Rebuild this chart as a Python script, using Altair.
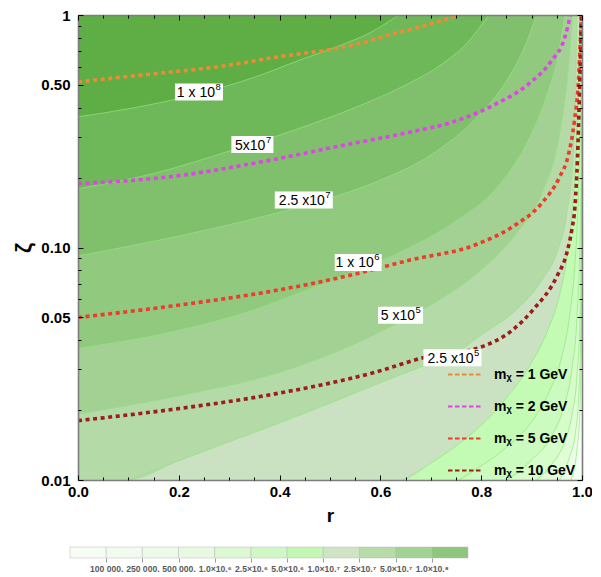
import altair as alt
import pandas as pd

FONT = "Liberation Sans"

# ---------------- filled-contour boundaries (r, zeta) ----------------
A_r = [0, 0.1, 0.242, 0.35, 0.44, 0.52, 0.58, 0.636]
A_z = [0.365, 0.395, 0.46, 0.54, 0.64, 0.74, 0.84, 1.0]
B_r = [0, 0.15, 0.305, 0.44, 0.55, 0.65, 0.72, 0.77, 0.815]
B_z = [0.179, 0.208, 0.262, 0.326, 0.40, 0.50, 0.61, 0.75, 1.0]
C_r = [0, 0.2, 0.39, 0.5, 0.6, 0.7, 0.79, 0.85, 0.885, 0.91]
C_z = [0.092, 0.112, 0.14, 0.163, 0.195, 0.25, 0.36, 0.52, 0.72, 1.0]
D_r = [0, 0.2, 0.35, 0.457, 0.556, 0.65, 0.75, 0.83, 0.89, 0.93, 0.952, 0.966]
D_z = [0.0368, 0.044, 0.054, 0.066, 0.08, 0.098, 0.13, 0.18, 0.28, 0.45, 0.66, 1.0]
D2_r = [0, 0.2, 0.4, 0.55, 0.64, 0.72, 0.8, 0.87, 0.92, 0.955, 0.972, 0.982]
D2_z = [0.0192, 0.023, 0.029, 0.0385, 0.048, 0.06, 0.08, 0.115, 0.17, 0.3, 0.55, 1.0]
E_r = [0.103, 0.2, 0.3, 0.4, 0.5, 0.6, 0.7, 0.743, 0.8, 0.87, 0.92, 0.95, 0.97, 0.982, 0.987, 0.99]
E_z = [0.01, 0.0121, 0.0146, 0.0176, 0.0214, 0.0262, 0.0318, 0.0345, 0.042, 0.054, 0.072, 0.095, 0.14, 0.24, 0.45, 1.0]
F_r = [0.645, 0.7, 0.75, 0.8, 0.85, 0.9, 0.93, 0.955, 0.97, 0.98, 0.988, 0.993, 0.996]
F_z = [0.01, 0.0118, 0.014, 0.0172, 0.0225, 0.032, 0.043, 0.062, 0.09, 0.14, 0.25, 0.5, 1.0]
G_r = [0.755, 0.8, 0.85, 0.9, 0.935, 0.96, 0.975, 0.986, 0.993, 0.997, 0.999]
G_z = [0.01, 0.0115, 0.0138, 0.0178, 0.024, 0.034, 0.05, 0.085, 0.17, 0.4, 1.0]
H_r = [0.851, 0.9, 0.94, 0.965, 0.98, 0.99, 0.996, 0.999, 1.0]
H_z = [0.01, 0.0122, 0.0155, 0.021, 0.03, 0.05, 0.11, 0.35, 1.0]
I_r = [0.91, 0.94, 0.965, 0.98, 0.99, 0.996, 0.999, 1.0]
I_z = [0.01, 0.0117, 0.0145, 0.019, 0.028, 0.05, 0.15, 1.0]
J_r = [0.955, 0.975, 0.987, 0.994, 0.998, 1.0]
J_z = [0.01, 0.0125, 0.016, 0.024, 0.05, 0.3]
K_r = [0.978, 0.99, 0.996, 1.0]
K_z = [0.01, 0.0135, 0.02, 0.06]

# fill colour of the region just above/left of each boundary
REGION_NAMES = ["K", "J", "I", "H", "G", "F", "E", "D2", "D", "C", "B", "A"]
REGION_R = [K_r, J_r, I_r, H_r, G_r, F_r, E_r, D2_r, D_r, C_r, B_r, A_r]
REGION_Z = [K_z, J_z, I_z, H_z, G_z, F_z, E_z, D2_z, D_z, C_z, B_z, A_z]
REGION_COLORS = ["#ecfee6", "#e1fdd8", "#d6fcca", "#cbfbbe", "#c3fbb4", "#cbe2c2",
                 "#b4daa7", "#a3d193", "#91c97f", "#80c06c", "#6eb859", "#5fad45"]
BACKGROUND = "#f6fff3"

# ---------------- dotted m_x curves ----------------
M1_r = [0, 0.085, 0.186, 0.287, 0.388, 0.522, 0.575, 0.623, 0.69, 0.755]
M1_z = [0.515, 0.54, 0.569, 0.603, 0.656, 0.725, 0.77, 0.829, 0.902, 1.0]
M2_r = [0, 0.186, 0.388, 0.522, 0.657, 0.744, 0.825, 0.892, 0.939, 0.966, 0.977]
M2_z = [0.188, 0.202, 0.239, 0.274, 0.313, 0.347, 0.41, 0.501, 0.634, 0.802, 1.0]
M5_r = [0, 0.186, 0.388, 0.522, 0.657, 0.79, 0.86, 0.92, 0.955, 0.973, 0.985, 0.993, 0.997, 0.999]
M5_z = [0.05, 0.056, 0.0651, 0.0744, 0.0881, 0.103, 0.122, 0.155, 0.2, 0.25, 0.35, 0.52, 0.8, 1.0]
M10_r = [0, 0.186, 0.388, 0.59, 0.69, 0.798, 0.864, 0.903, 0.95, 0.97, 0.98, 0.986, 0.991, 0.995, 0.998, 0.999]
M10_z = [0.018, 0.0201, 0.0234, 0.0291, 0.0338, 0.0372, 0.0445, 0.054, 0.075, 0.095, 0.12, 0.15, 0.24, 0.46, 0.8, 1.0]
MX_LABELS = ["m\u1d6a = 1 GeV", "m\u1d6a = 2 GeV", "m\u1d6a = 5 GeV", "m\u1d6a = 10 GeV"]
MX_COLORS = ["#ef8a35", "#df45e6", "#ee3b2b", "#9e1c1c"]
MX_R = [M1_r, M2_r, M5_r, M10_r]
MX_Z = [M1_z, M2_z, M5_z, M10_z]

# ---------------- contour labels ----------------
LBL_BASE = ["1 x 10", "5x10", "2.5 x10", "1 x 10", "5 x10", "2.5 x10"]
LBL_EXP = ["8", "7", "7", "6", "5", "5"]
LBL_R = [0.240, 0.346, 0.448, 0.556, 0.640, 0.743]
LBL_Z = [0.466, 0.277, 0.160, 0.0862, 0.0511, 0.0336]
LBL_BOX_W = [48, 42, 58, 47, 45, 58]

# ---------------- colour bar ----------------
CB_COLORS = ["#f7fcf5", "#f2fbef", "#edfae9", "#e7fae1", "#dcf9d3", "#d0f8c4",
             "#c3f7b4", "#cee4c5", "#b7dcaa", "#a3d295", "#8fc67d"]
CB_LABELS = ["100 000.", "250 000.", "500 000.", "1.0\u00d710.\u2076", "2.5\u00d710.\u2076",
             "5.0\u00d710.\u2076", "1.0\u00d710.\u2077", "2.5\u00d710.\u2077", "5.0\u00d710.\u2077",
             "1.0\u00d710.\u2078"]

X_MAJOR = [0, 0.2, 0.4, 0.6, 0.8, 1.0]
X_MINOR = [round(0.05 * i, 2) for i in range(21) if i % 4 != 0]
Y_MAJOR = [0.01, 0.05, 0.1, 0.5, 1]
Y_MINOR = [0.02, 0.03, 0.04, 0.06, 0.07, 0.08, 0.09, 0.2, 0.3, 0.4, 0.6, 0.7, 0.8, 0.9]

xs = alt.Scale(domain=[0, 1], nice=False, zero=False)
ys = alt.Scale(type="log", domain=[0.01, 1], nice=False)


def tick_axis(orient, values, size, offset):
    return alt.Axis(orient=orient, values=values, tickSize=size, offset=offset, labels=False,
                    domain=False, grid=False, tickColor="black", tickWidth=1, title=None, zindex=2)


def frame_axis(orient):
    return alt.Axis(orient=orient, ticks=False, labels=False, domain=True, domainColor="#7d7d7d",
                    domainWidth=1.6, grid=False, title=None, zindex=1)


x_major = alt.Axis(orient="bottom", values=X_MAJOR, format=".1f", offset=-5, tickSize=5,
                   domain=False, grid=False, tickColor="black", labelFont=FONT, labelFontSize=15,
                   labelFontWeight="bold", labelColor="black", labelPadding=4, labelFlush=False,
                   labelOverlap=False, title="r", titleFont=FONT, titleFontSize=19,
                   titleFontWeight="bold", titleColor="black", titlePadding=7, zindex=2)
y_major = alt.Axis(orient="left", values=Y_MAJOR, offset=-5, tickSize=5, domain=False, grid=False,
                   tickColor="black", labelFont=FONT, labelFontSize=15, labelFontWeight="bold",
                   labelColor="black", labelPadding=8, labelFlush=False, labelOverlap=False,
                   labelExpr="datum.value == 1 ? '1' : format(datum.value, '.2f')",
                   title="\u03b6", titleFont=FONT, titleFontSize=22, titleFontWeight="bold",
                   titleColor="black", titlePadding=5, zindex=2)

AXES = [
    (x_major, y_major),
    (tick_axis("bottom", X_MINOR, 3, -3), tick_axis("left", Y_MINOR, 3, -3)),
    (tick_axis("top", X_MAJOR, 5, -5), tick_axis("right", Y_MAJOR, 5, -5)),
    (tick_axis("top", X_MINOR, 3, -3), tick_axis("right", Y_MINOR, 3, -3)),
    (frame_axis("bottom"), frame_axis("left")),
    (frame_axis("top"), frame_axis("right")),
]

layers = []
for i, (name, rr, zz, col) in enumerate(zip(REGION_NAMES, REGION_R, REGION_Z, REGION_COLORS)):
    pts_r, pts_z = list(rr), list(zz)
    if pts_r[0] > 0:
        pts_r = [0] + pts_r
        pts_z = [0.01] + pts_z
    df = pd.DataFrame({"r": pts_r, "z": pts_z})
    if i < len(AXES):
        xa, ya = AXES[i]
    else:
        xa, ya = None, None
    layers.append(
        alt.Chart(df).mark_area(color=col, clip=True, interpolate="monotone").encode(
            x=alt.X("r:Q", scale=xs, axis=xa),
            y=alt.Y("z:Q", scale=ys, axis=ya),
            y2=alt.datum(1),
        )
    )

# thin boundary lines
bound = pd.concat([pd.DataFrame({"curve": n, "r": rr, "z": zz})
                   for n, rr, zz in zip(REGION_NAMES, REGION_R, REGION_Z)])
layers.append(
    alt.Chart(bound).mark_line(color="#93e47f", strokeWidth=0.9, opacity=0.8, clip=True,
                               interpolate="monotone").encode(
        x=alt.X("r:Q", scale=xs, axis=None),
        y=alt.Y("z:Q", scale=ys, axis=None),
        detail="curve:N",
    )
)

# dotted m_x curves
mx = pd.concat([pd.DataFrame({"mx": lab, "r": rr, "z": zz, "k": k})
                for k, (lab, rr, zz) in enumerate(zip(MX_LABELS, MX_R, MX_Z))])
layers.append(
    alt.Chart(mx).mark_line(strokeWidth=3.6, strokeDash=[4, 3.6], clip=True,
                            interpolate="monotone").encode(
        x=alt.X("r:Q", scale=xs, axis=None),
        y=alt.Y("z:Q", scale=ys, axis=None),
        color=alt.Color("mx:N", scale=alt.Scale(domain=MX_LABELS, range=MX_COLORS),
                        legend=alt.Legend(orient="none", legendX=369, legendY=341, title=None,
                                          symbolType="stroke", symbolSize=1225,
                                          symbolStrokeWidth=2, symbolDash=[4.5, 2.5],
                                          labelFont=FONT, labelFontSize=14,
                                          labelFontWeight="bold", labelColor="black",
                                          labelOffset=10, rowPadding=6, padding=0,
                                          labelLimit=200)),
        order="k:Q",
    )
)

# label boxes and texts
for base, ex, r, z, w in zip(LBL_BASE, LBL_EXP, LBL_R, LBL_Z, LBL_BOX_W):
    d = pd.DataFrame({"r": [r], "z": [z], "base": [base], "exp": [ex]})
    half = w / 2
    path = f"M{-half},-8.5H{half}V8.5H{-half}Z"
    enc = dict(x=alt.X("r:Q", scale=xs, axis=None), y=alt.Y("z:Q", scale=ys, axis=None))
    layers.append(alt.Chart(d).mark_point(shape=path, size=4, filled=True, fill="white",
                                          opacity=1, strokeWidth=0).encode(**enc))
    layers.append(alt.Chart(d).mark_text(font=FONT, fontSize=14, color="black", align="right",
                                         baseline="middle", dx=half - 8, dy=1).encode(
        text="base:N", **enc))
    layers.append(alt.Chart(d).mark_text(font=FONT, fontSize=9.5, color="black", align="left",
                                         baseline="middle", dx=half - 7.5, dy=-5).encode(
        text="exp:N", **enc))

plot = alt.layer(*layers).resolve_axis(x="independent", y="independent")

# colour bar
cb = pd.DataFrame({"lo": list(range(11)), "hi": list(range(1, 12)), "col": CB_COLORS,
                   "b": [0] * 11, "t": [1] * 11})
cb_x = alt.Scale(domain=[0, 11], range=[-8, 390], nice=False, zero=False)
cb_y = alt.Scale(domain=[0, 1], range=[543, 532], nice=False, zero=False)
label_arr = "['', " + ", ".join(f"'{s}'" for s in CB_LABELS) + "]"
cb_axis = alt.Axis(orient="bottom", values=list(range(1, 11)), offset=78, tickSize=4,
                   tickColor="#9a9a9a", domain=False, grid=False, labelFont=FONT,
                   labelFontSize=8.6, labelFontWeight="bold", labelColor="#5a5a5a",
                   labelPadding=2, labelFlush=False, labelOverlap=False,
                   labelExpr=label_arr + "[datum.value]", title=None)
cbar = alt.Chart(cb).mark_rect(stroke="#b8b8b8", strokeWidth=0.5).encode(
    x=alt.X("lo:Q", scale=cb_x, axis=cb_axis),
    x2="hi:Q",
    y=alt.Y("b:Q", scale=cb_y, axis=None),
    y2="t:Q",
    fill=alt.Fill("col:N", scale=None),
)

chart = alt.layer(plot, cbar).resolve_scale(
    x="independent", y="independent"
).properties(
    width=504, height=465,
    padding={"left": 70, "top": 7, "right": 10, "bottom": 97},
    autosize=alt.AutoSizeParams(type="none"),
    background="white",
).configure_view(fill=BACKGROUND, stroke=None)

chart.save("out.html", embed_options={"renderer": "svg", "actions": False})
